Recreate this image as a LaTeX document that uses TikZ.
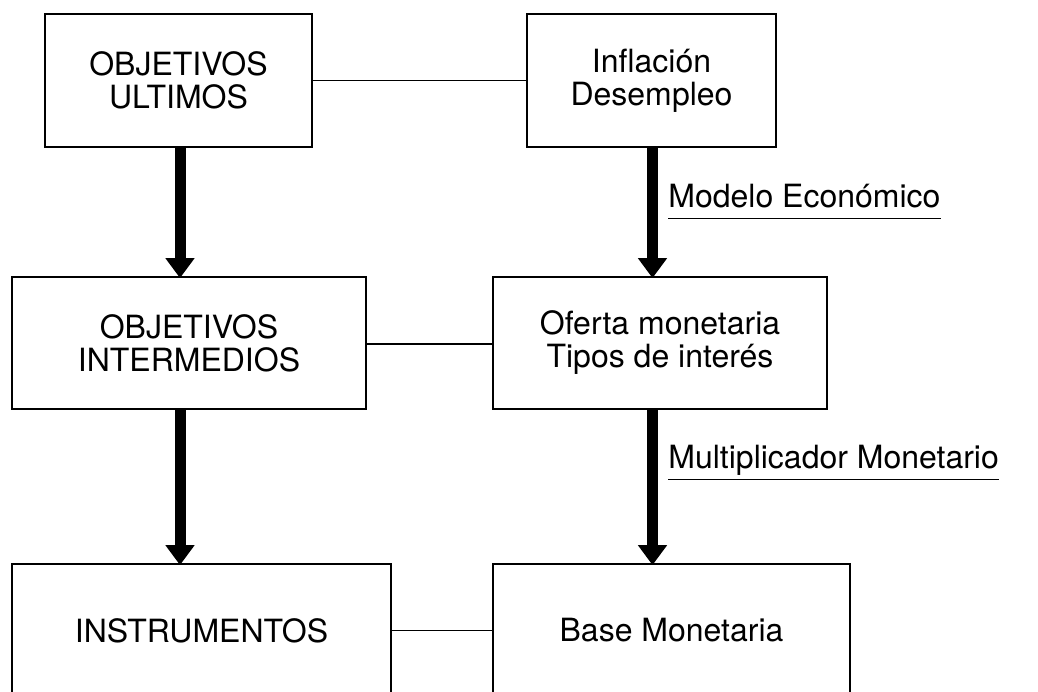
\documentclass[tikz,border=0pt]{standalone}
\usepackage{fontspec}
\setmainfont{TeX Gyre Heros}
\usetikzlibrary{arrows.meta}

\begin{document}
\begin{tikzpicture}
    [ x=.5pt, y=-.5pt,
      font=\fontsize{16}{16.5}\selectfont,
      caja/.style={draw, line width=.9pt, fill=white, inner sep=0pt,
                   align=center},
      flecha/.style={line width=5.5pt,
                     -{Triangle[width=14pt,length=10pt]}, shorten >=-1pt},
      enlace/.style={line width=.7pt},
      etiqueta/.style={anchor=base west, inner xsep=0pt, inner ysep=.5pt,
                       text depth=5pt},
    ]
    \useasboundingbox (0,0) rectangle (1038,691);

    % columna izquierda
    \node[caja, minimum width=133.5pt, minimum height=66.5pt]
        (ultimos) at (178.5,80.5) {OBJETIVOS\\ULTIMOS};
    \node[caja, minimum width=177pt, minimum height=66pt]
        (intermedios) at (189,343) {OBJETIVOS\\INTERMEDIOS};
    \node[caja, minimum width=189.5pt, minimum height=66.5pt]
        (instrumentos) at (201.5,630.5) {INSTRUMENTOS};

    % columna derecha
    \node[caja, minimum width=124.5pt, minimum height=66.5pt]
        (inflacion) at (651.5,80.5) {Inflación\\Desempleo};
    \node[caja, minimum width=167pt, minimum height=66pt]
        (oferta) at (660,343) {Oferta monetaria\\Tipos de interés};
    \node[caja, minimum width=178.5pt, minimum height=66.5pt]
        (base) at (671.5,630.5) {Base Monetaria};

    % enlaces horizontales
    \draw[enlace] (ultimos) -- (inflacion);
    \draw[enlace] (intermedios.east |- 0,344) -- (oferta.west |- 0,344);
    \draw[enlace] (instrumentos) -- (base);

    % flechas
    \draw[flecha] ([xshift=.75pt]ultimos.south)
        -- ([xshift=.75pt]ultimos.south |- intermedios.north);
    \draw[flecha] ([xshift=.75pt]intermedios.south -| ultimos)
        -- ([xshift=.75pt]instrumentos.north -| ultimos);
    \draw[flecha] ([xshift=.5pt]inflacion.south)
        -- ([xshift=.5pt]inflacion.south |- oferta.north);
    \draw[flecha] ([xshift=.5pt]oferta.south -| inflacion)
        -- ([xshift=.5pt]base.north -| inflacion);

    % etiquetas subrayadas
    \node[etiqueta] (modelo) at (668,207) {Modelo Económico};
    \draw[enlace] (modelo.south west) -- (modelo.south east);
    \node[etiqueta] (multiplicador) at (668,468) {Multiplicador Monetario};
    \draw[enlace] (multiplicador.south west) -- (multiplicador.south east);
\end{tikzpicture}
\end{document}
